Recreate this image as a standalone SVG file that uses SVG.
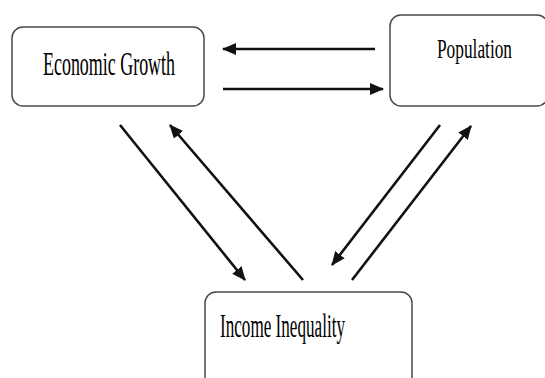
<svg xmlns="http://www.w3.org/2000/svg" width="545" height="378" viewBox="0 0 545 378">
<style>
.box{fill:#fff;stroke:#4a4a4a;stroke-width:1.5}
.lbl{font-family:"Liberation Serif","Times New Roman",serif;fill:#000}
.conn{stroke:#111;stroke-width:2.6;fill:none;marker-end:url(#ah)}
</style>
<defs>
<marker id="ah" markerUnits="userSpaceOnUse" markerWidth="16" markerHeight="14" refX="13" refY="6" orient="auto">
<path d="M0,0 L14,6 L0,12 Z" fill="#111"/>
</marker>
</defs>
<rect width="545" height="378" fill="#fff"/>
<g id="economic-growth">
<rect class="box" x="12" y="27" width="192" height="79" rx="11"/>
<text class="lbl" x="43" y="75" font-size="33" textLength="132" lengthAdjust="spacingAndGlyphs">Economic Growth</text>
</g>
<g id="population">
<rect class="box" x="390" y="15" width="158" height="91" rx="11"/>
<text class="lbl" transform="translate(437,58) scale(1,1.56)" x="0" y="0" font-size="17.3" textLength="75" lengthAdjust="spacingAndGlyphs">Population</text>
</g>
<g id="income-inequality">
<rect class="box" x="205" y="292" width="207" height="100" rx="11"/>
<text class="lbl" x="220" y="337" font-size="33" textLength="125" lengthAdjust="spacingAndGlyphs">Income Inequality</text>
</g>
<g id="connectors">
<line class="conn" x1="375" y1="49" x2="223" y2="49"/>
<line class="conn" x1="223" y1="89" x2="383" y2="89"/>
<line class="conn" x1="120" y1="125" x2="245" y2="280"/>
<line class="conn" x1="303" y1="280" x2="170" y2="125"/>
<line class="conn" x1="440" y1="125" x2="332" y2="265"/>
<line class="conn" x1="352" y1="280" x2="471" y2="126"/>
</g>
</svg>
